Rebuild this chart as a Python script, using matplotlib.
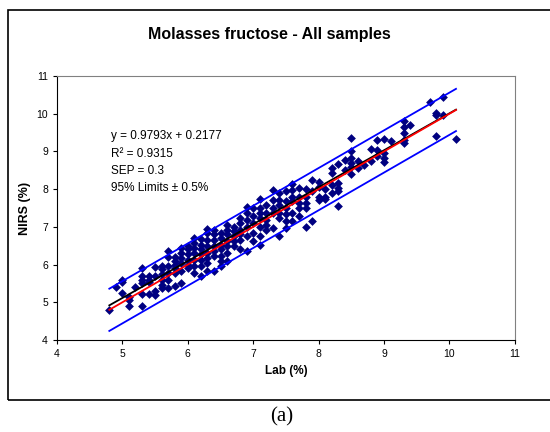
import numpy as np
import matplotlib
matplotlib.use('Agg')
import matplotlib.pyplot as plt
from matplotlib.patches import Rectangle

#lab values and the NIRS readings at each lab value
lab_nirs = {
    4.8: [4.8],
    4.9: [5.4],
    5.0: [5.6, 5.55, 5.25],
    5.1: [5.15, 5.05, 4.9],
    5.2: [5.4],
    5.3: [5.9, 5.7, 5.6, 5.5, 5.22, 4.9],
    5.4: [5.7, 5.6, 5.55, 5.23],
    5.5: [5.93, 5.7, 5.3, 5.2],
    5.6: [5.95, 5.87, 5.74, 5.6, 5.45, 5.38],
    5.7: [6.35, 6.2, 5.95, 5.78, 5.6, 5.38],
    5.8: [6.2, 6.1, 6.0, 5.9, 5.78, 5.43],
    5.9: [6.45, 6.3, 6.18, 6.05, 5.83, 5.52],
    6.0: [6.5, 6.4, 6.27, 6.13, 6.0, 5.9],
    6.1: [6.7, 6.57, 6.45, 6.3, 6.13, 5.95, 5.78],
    6.2: [6.68, 6.53, 6.4, 6.27, 6.13, 5.95, 5.7],
    6.3: [6.95, 6.84, 6.66, 6.49, 6.3, 6.18, 6.05, 5.83],
    6.4: [6.93, 6.8, 6.66, 6.49, 6.35, 6.22, 5.83],
    6.5: [6.84, 6.7, 6.53, 6.4, 6.22, 6.09, 5.95],
    6.6: [7.06, 6.93, 6.8, 6.62, 6.49, 6.3, 6.09],
    6.7: [7.0, 6.88, 6.75, 6.62, 6.49],
    6.8: [7.24, 7.1, 6.93, 6.8, 6.66, 6.4],
    6.9: [7.53, 7.37, 7.19, 7.0, 6.75, 6.35],
    7.0: [7.5, 7.28, 7.1, 6.84, 6.62],
    7.1: [7.75, 7.5, 7.37, 7.24, 7.0, 6.75, 6.53],
    7.2: [7.59, 7.37, 7.19, 7.06, 6.93],
    7.3: [7.97, 7.72, 7.5, 7.37, 6.97],
    7.4: [7.9, 7.72, 7.59, 7.37, 7.24, 6.75],
    7.5: [7.94, 7.68, 7.5, 7.33, 7.15, 6.97],
    7.6: [8.14, 7.98, 7.8, 7.68, 7.37, 7.15],
    7.7: [8.03, 7.8, 7.63, 7.5, 7.28],
    7.8: [8.0, 7.8, 7.63, 7.5, 7.0],
    7.9: [8.25, 7.94, 7.15],
    8.0: [8.2, 8.07, 7.8, 7.72],
    8.1: [8.0, 7.8, 7.73],
    8.2: [8.56, 8.43, 8.12, 7.9],
    8.3: [8.67, 8.16, 8.03, 7.94, 7.56],
    8.4: [8.78, 8.51],
    8.5: [9.35, 9.0, 8.82, 8.69, 8.6, 8.41],
    8.6: [8.74, 8.56],
    8.7: [8.65],
    8.8: [9.06, 8.74],
    8.9: [9.31, 9.04, 8.87],
    9.0: [9.33, 8.96, 8.82, 8.71],
    9.1: [9.28],
    9.3: [9.82, 9.66, 9.48, 9.31, 9.22],
    9.4: [9.7],
    9.7: [10.32],
    9.8: [10.01, 9.97, 9.41],
    9.9: [10.44, 9.97],
    10.1: [9.34],
}

#regression and limits from the chart text
slope = 0.9793
intercept = 0.2177
limit = 0.56
x_range = [4.8, 10.1]

lab = [k for k, v in lab_nirs.items() for _ in v]
nirs = [y for v in lab_nirs.values() for y in v]

plt.rcParams['font.family'] = ['Liberation Sans', 'DejaVu Sans']

fig = plt.figure(figsize=(5.5, 4.32), dpi=100)

#outer frame like the excel chart area
fig.patches.append(Rectangle((0.0145, 0.074), 1.0, 0.903, transform=fig.transFigure,
                             fill=False, edgecolor='black', linewidth=1.2))

ax = fig.add_axes([0.1036, 0.213, 0.8325, 0.611])
ax.scatter(lab, nirs, marker='D', s=20, color='#000080', zorder=3, linewidths=0)

xr = np.array(x_range)
ax.plot(xr, xr + limit, color='#0000ff', linewidth=1.3, zorder=4)
ax.plot(xr, xr - limit, color='#0000ff', linewidth=1.3, zorder=4)
ax.plot(xr, slope * xr + intercept, color='black', linewidth=1.3, zorder=4)
ax.plot(xr, xr, color='#ff0000', linewidth=1.3, zorder=5)

ax.set_xlim(4, 11)
ax.set_ylim(4, 11)
ax.set_xticks(range(4, 12))
ax.set_yticks(range(4, 12))
ax.tick_params(labelsize=7.5, length=3, direction='out')
for s in ['top', 'right']:
    ax.spines[s].set_color('#808080')

ax.set_xlabel('Lab (%)', fontsize=8.5, fontweight='bold')
ax.set_ylabel('NIRS (%)', fontsize=9, fontweight='bold')

ax.text(0.118, 0.795, 'y = 0.9793x + 0.2177\nR\u00b2 = 0.9315\nSEP = 0.3\n95% Limits \u00b1 0.5%',
        transform=ax.transAxes, fontsize=8.5, va='top', linespacing=1.6)

fig.text(0.49, 0.919, 'Molasses fructose - All samples', fontsize=11.5,
         fontweight='bold', ha='center', va='center')
fig.text(0.512, 0.035, '(a)', fontsize=15, ha='center', va='center',
         family=['Liberation Serif', 'DejaVu Serif'])

fig.savefig('out.png', dpi=100)
